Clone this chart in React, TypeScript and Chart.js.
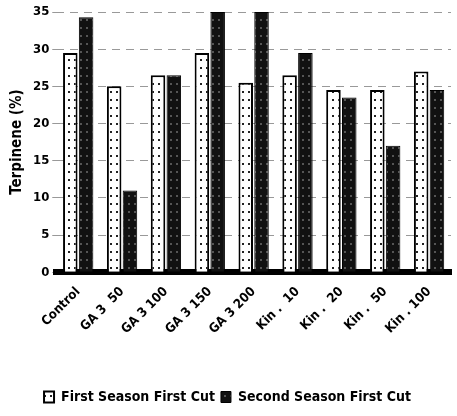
import React, { useEffect, useRef } from "react";
import { Chart, registerables } from "chart.js";

Chart.register(...registerables);

const categories = ["Control", "GA 3  50", "GA 3 100", "GA 3 150", "GA 3 200", "Kin .  10", "Kin .  20", "Kin .  50", "Kin . 100"];
const firstSeason = [29.5, 25, 26.5, 29.5, 25.5, 26.5, 24.5, 24.5, 27];
const secondSeason = [34.3, 11, 26.5, 35, 35, 29.5, 23.5, 17, 24.5];
const yTicks = [0, 5, 10, 15, 20, 25, 30, 35];

function makePattern(bg: string, dot: string): CanvasPattern | string {
  const c = document.createElement("canvas");
  c.width = 6;
  c.height = 8;
  const g = c.getContext("2d");
  if (!g) return bg;
  g.fillStyle = bg;
  g.fillRect(0, 0, 6, 8);
  g.fillStyle = dot;
  g.fillRect(2, 3, 2, 2);
  const p = g.createPattern(c, "repeat");
  return p || bg;
}

export default function App() {
  const ref = useRef<HTMLCanvasElement>(null);
  useEffect(() => {
    document.body.style.margin = "0";
    if (!ref.current) return;
    const font = "'Liberation Sans Narrow', 'DejaVu Sans Condensed', 'Arial Narrow', 'Liberation Sans', sans-serif";
    const chart = new Chart(ref.current, {
      type: "bar",
      data: {
        labels: categories,
        datasets: [
          {
            label: "First Season First Cut",
            data: firstSeason,
            backgroundColor: makePattern("#ffffff", "#222222"),
            borderColor: "#000000",
            borderWidth: 2,
          },
          {
            label: "Second Season First Cut",
            data: secondSeason,
            backgroundColor: makePattern("#111111", "#555555"),
            borderColor: "#000000",
            borderWidth: 1,
          },
        ],
      },
      options: {
        animation: false,
        responsive: false,
        layout: { padding: { left: 4, right: 6, top: 12, bottom: 2 } },
        datasets: { bar: { categoryPercentage: 0.72, barPercentage: 0.92 } },
        plugins: {
          legend: {
            position: "bottom",
            align: "center",
            title: { display: true, text: " ", padding: { top: 38, bottom: 0 }, font: { size: 4 } },
            labels: {
              color: "#000",
              boxWidth: 10,
              boxHeight: 11,
              padding: 6,
              font: { family: font, size: 14, weight: "bold" },
            },
          },
          tooltip: { enabled: false },
        },
        scales: {
          x: {
            grid: { display: false },
            border: { display: true, color: "#000", width: 6 },
            ticks: {
              color: "#000",
              minRotation: 45,
              maxRotation: 45,
              font: { family: font, size: 13, weight: "bold" },
              padding: 4,
            },
          },
          y: {
            min: 0,
            max: 35,
            afterBuildTicks: (axis: any) => {
              axis.ticks = yTicks.map((v) => ({ value: v }));
            },
            grid: { color: "#999", drawTicks: true, tickLength: 4, lineWidth: 1 },
            border: { display: false, dash: [8, 6] },
            ticks: {
              color: "#000",
              font: { family: font, size: 13, weight: "bold" },
              padding: 3,
            },
            title: {
              display: true,
              text: "Terpinene (%)",
              color: "#000",
              font: { family: font, size: 15, weight: "bold" },
              padding: 4,
            },
          },
        },
      },
    });
    return () => chart.destroy();
  }, []);
  return <canvas ref={ref} width={457} height={416} style={{ display: "block" }} />;
}
